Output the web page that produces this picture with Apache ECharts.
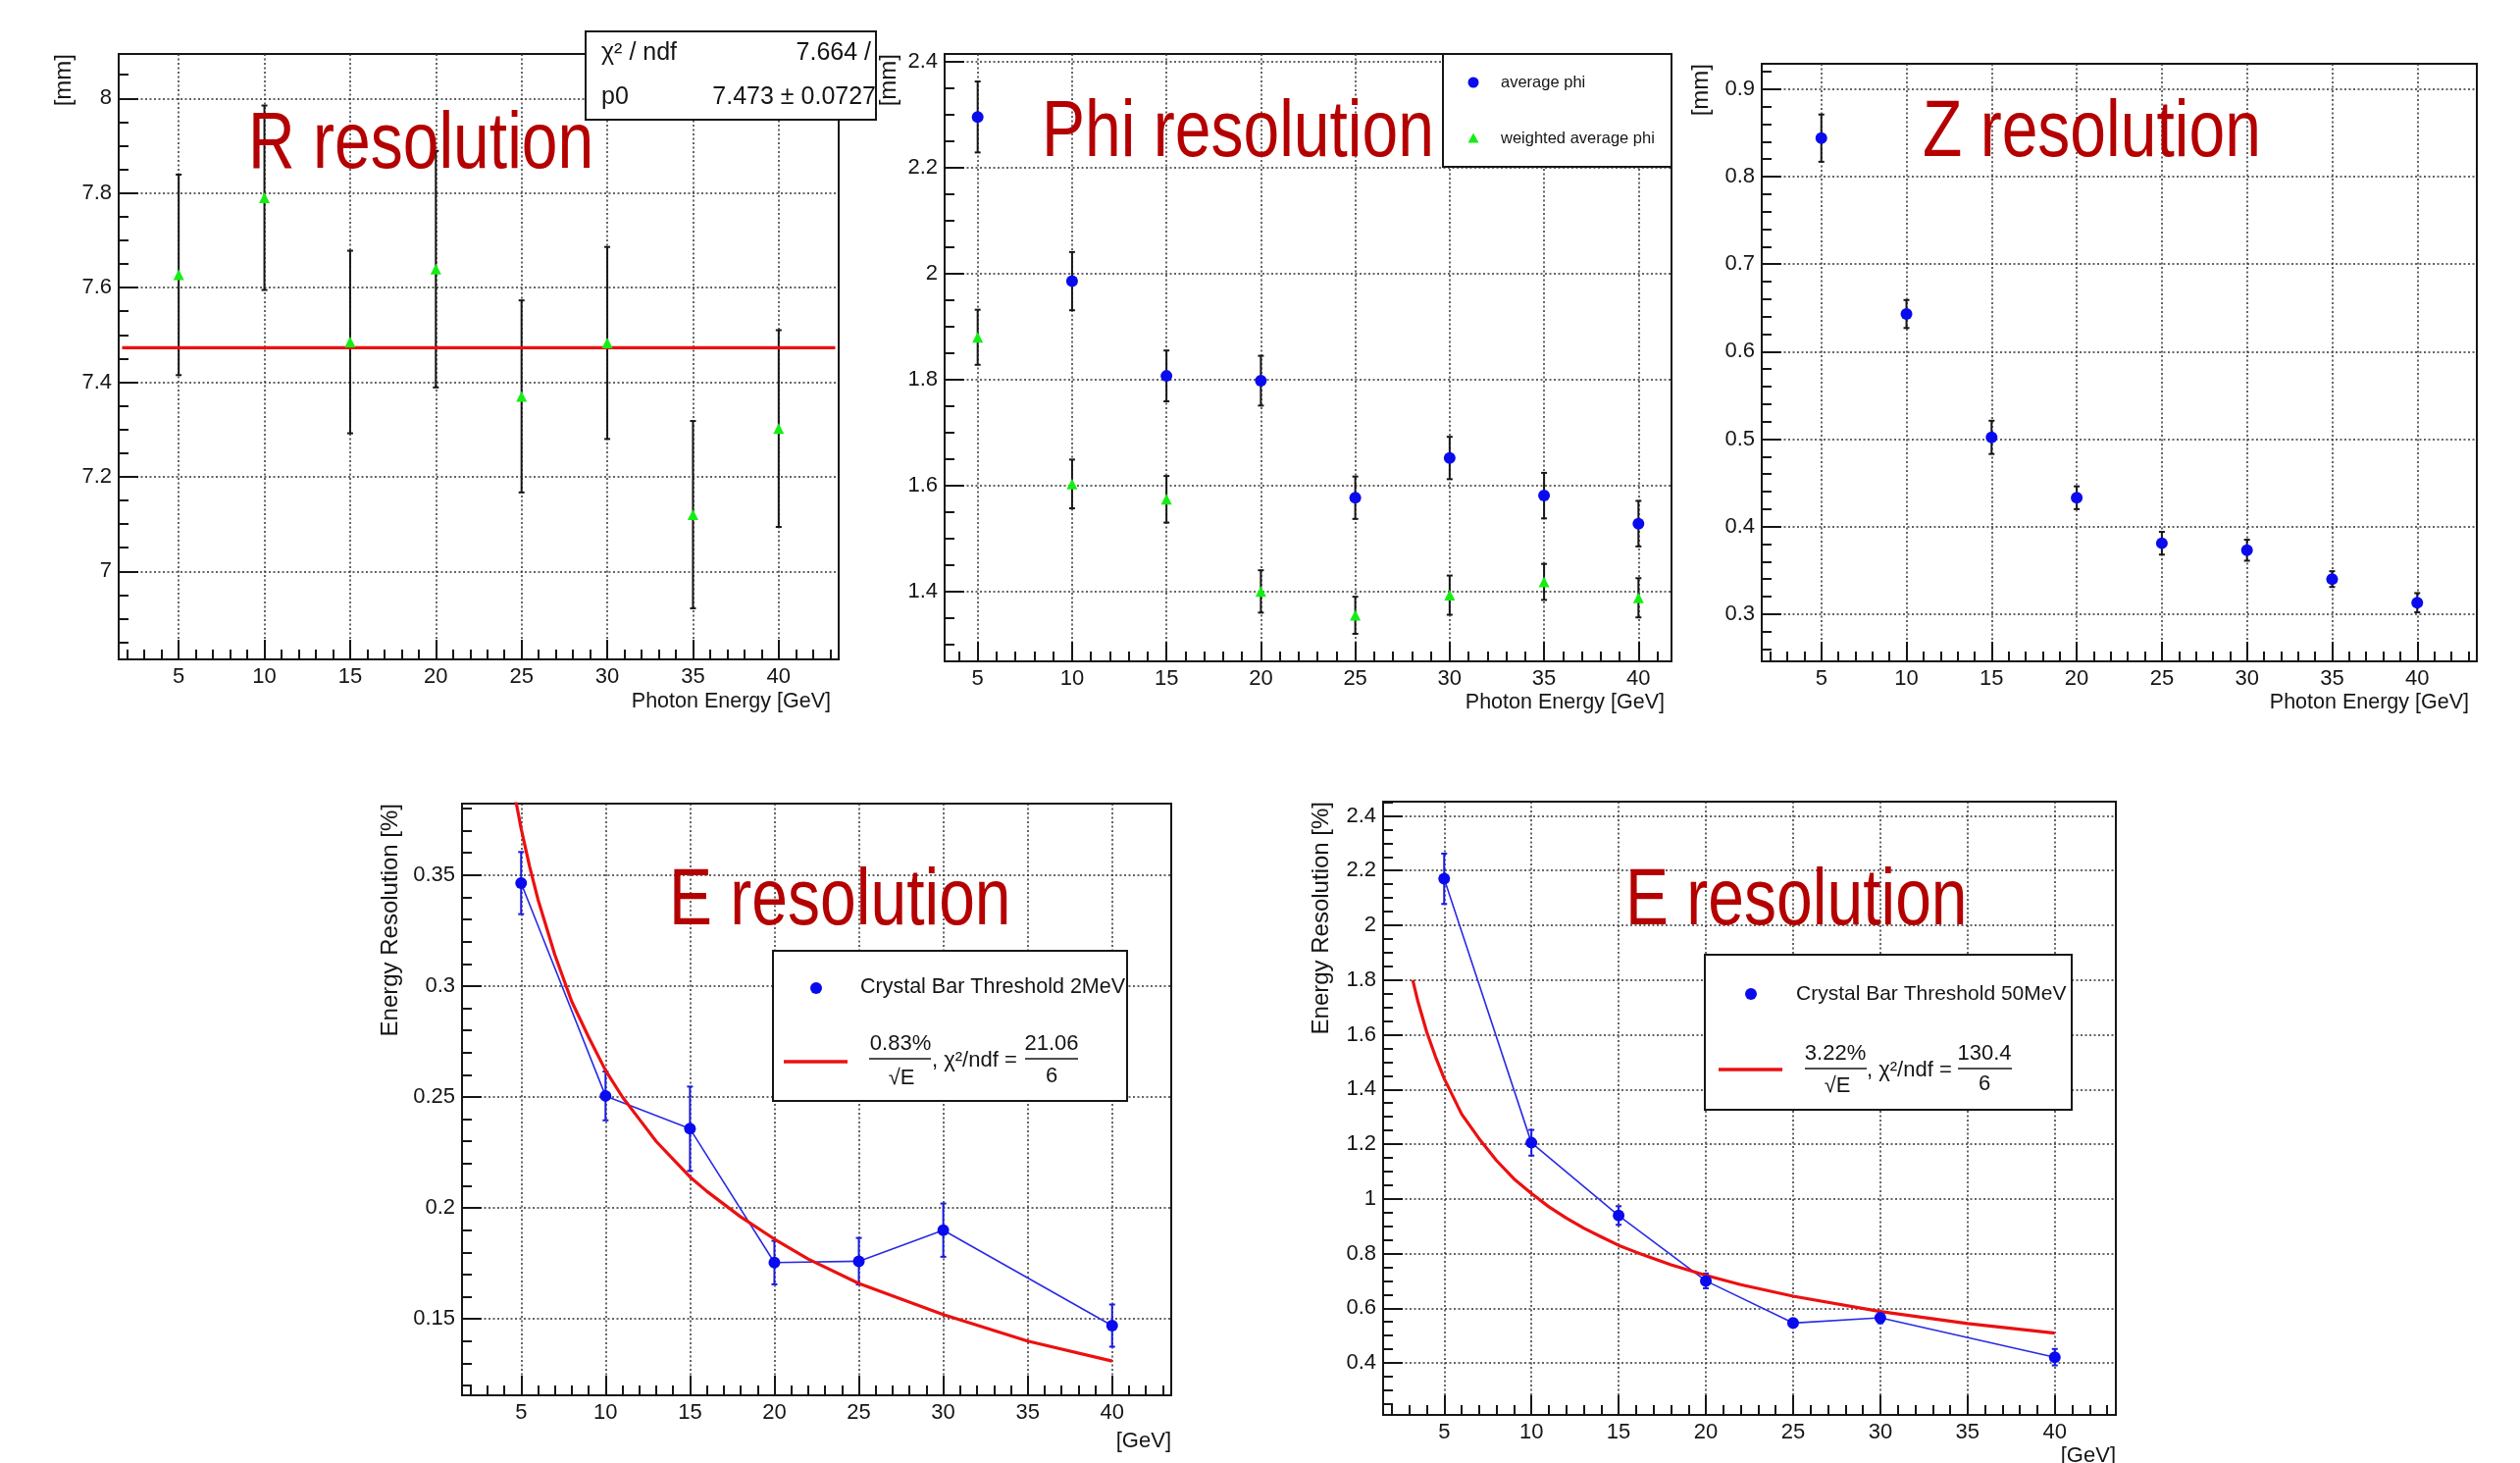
<!DOCTYPE html>
<html><head><meta charset="utf-8">
<script src="https://cdn.jsdelivr.net/npm/echarts@6/dist/echarts.min.js"></script>
<style>html,body{margin:0;padding:0;background:#fff;}#c{width:2569px;height:1491px;}</style>
</head><body><div id="c"></div>
<script>
// ---------------- data ----------------
const energies = [5, 10, 15, 20, 25, 30, 35, 40];
const eEnergies = [5, 10, 15, 20, 25, 30, 40];
const xTicks = [5, 10, 15, 20, 25, 30, 35, 40];

// R resolution
const rValues = [7.627, 7.790, 7.485, 7.639, 7.370, 7.483, 7.120, 7.302];
const rErrors = [0.212, 0.195, 0.193, 0.250, 0.203, 0.203, 0.198, 0.208];
const rFitP0 = 7.473;
const rFitRange = [1.7, 43.3];
const rTicks = [7, 7.2, 7.4, 7.6, 7.8, 8];
const rXRange = [1.5, 43.5], rYRange = [6.814, 8.094];

// Phi resolution
const phiAvg = [2.296, 1.986, 1.807, 1.798, 1.577, 1.652, 1.581, 1.528];
const phiAvgErr = [0.067, 0.055, 0.048, 0.047, 0.040, 0.040, 0.043, 0.043];
const phiWeighted = [1.880, 1.603, 1.574, 1.400, 1.355, 1.393, 1.418, 1.388];
const phiWeightedErr = [0.052, 0.046, 0.044, 0.040, 0.035, 0.037, 0.034, 0.037];
const phiTicks = [1.4, 1.6, 1.8, 2, 2.2, 2.4];
const phiXRange = [3.25, 41.75], phiYRange = [1.268, 2.415];

// Z resolution
const zValues = [0.844, 0.643, 0.502, 0.433, 0.381, 0.373, 0.340, 0.313];
const zErrors = [0.027, 0.016, 0.019, 0.013, 0.013, 0.012, 0.009, 0.011];
const zTicks = [0.3, 0.4, 0.5, 0.6, 0.7, 0.8, 0.9];
const zXRange = [1.5, 43.5], zYRange = [0.246, 0.929];

// E resolution, threshold 2 MeV
const e2Values = [0.3464, 0.2505, 0.2357, 0.1754, 0.1760, 0.1900, 0.1470];
const e2Errors = [0.0140, 0.0110, 0.0190, 0.0098, 0.0105, 0.0120, 0.0095];
const e2FitE = [4.5, 5, 5.5, 6, 7, 8, 9, 10, 11, 12, 13, 14, 15, 16, 18, 20, 22, 25, 30, 35, 40];
const e2FitValues = [0.391, 0.371, 0.354, 0.339, 0.314, 0.293, 0.277, 0.262, 0.250, 0.240, 0.230, 0.222, 0.214, 0.2075, 0.196, 0.186, 0.177, 0.166, 0.152, 0.140, 0.131];
const e2Ticks = [0.15, 0.2, 0.25, 0.3, 0.35];
const e2XRange = [1.5, 43.5], e2YRange = [0.1156, 0.3822];

// E resolution, threshold 50 MeV
const e50Values = [2.170, 1.205, 0.939, 0.700, 0.546, 0.565, 0.421];
const e50Errors = [0.092, 0.047, 0.034, 0.027, 0.015, 0.020, 0.030];
const e50FitE = [3.2, 3.5, 4, 4.5, 5, 6, 7, 8, 9, 10, 11, 12, 13, 14, 15, 16, 18, 20, 22, 25, 30, 35, 40];
const e50FitValues = [1.80, 1.72, 1.61, 1.52, 1.44, 1.31, 1.22, 1.14, 1.073, 1.02, 0.971, 0.93, 0.893, 0.861, 0.83, 0.805, 0.759, 0.72, 0.686, 0.644, 0.588, 0.544, 0.509];
const e50Ticks = [0.4, 0.6, 0.8, 1, 1.2, 1.4, 1.6, 1.8, 2, 2.2, 2.4];
const e50XRange = [1.5, 43.5], e50YRange = [0.21, 2.452];

// ---------------- helpers ----------------
const FONT = 'Liberation Sans, Arial, Helvetica, sans-serif';
const TXT = '#151515';
function steps(a, b, s) { const o = []; for (let v = a; v <= b + 1e-9; v += s) o.push(Math.round(v * 10000) / 10000); return o; }

const panels = [
  { grid: { left: 121, top: 55, width: 734, height: 617 }, x: rXRange, y: rYRange, yTicks: rTicks, yMinor: steps(6.85, 8.05, 0.05), xMinor: steps(2, 43, 1) },
  { grid: { left: 963, top: 55, width: 741, height: 619 }, x: phiXRange, y: phiYRange, yTicks: phiTicks, yMinor: steps(1.3, 2.4, 0.05), xMinor: steps(4, 41, 1) },
  { grid: { left: 1796, top: 65, width: 729, height: 609 }, x: zXRange, y: zYRange, yTicks: zTicks, yMinor: steps(0.26, 0.92, 0.02), xMinor: steps(2, 43, 1) },
  { grid: { left: 471, top: 819, width: 723, height: 603 }, x: e2XRange, y: e2YRange, yTicks: e2Ticks, yMinor: steps(0.12, 0.38, 0.01), xMinor: steps(2, 43, 1) },
  { grid: { left: 1410, top: 817, width: 747, height: 625 }, x: e50XRange, y: e50YRange, yTicks: e50Ticks, yMinor: steps(0.25, 2.45, 0.05), xMinor: steps(2, 43, 1) }
];

const grids = [], xAxes = [], yAxes = [];
const gridLine = { show: true, lineStyle: { color: '#333333', width: 1.5, type: [2, 2.5] } };
panels.forEach((p, i) => {
  grids.push(Object.assign({ show: true, borderColor: '#161616', borderWidth: 2, backgroundColor: 'transparent', containLabel: false, outerBoundsMode: 'none' }, p.grid));
  xAxes.push({
    type: 'value', gridIndex: i, min: p.x[0], max: p.x[1], position: 'bottom',
    axisLine: { show: false, onZero: false },
    axisTick: { show: true, inside: true, length: 20, customValues: xTicks, lineStyle: { color: '#161616', width: 2 } },
    axisLabel: { show: true, customValues: xTicks, margin: 7, fontSize: 22, fontFamily: FONT, color: TXT },
    splitLine: gridLine
  });
  xAxes.push({
    type: 'value', gridIndex: i, min: p.x[0], max: p.x[1], position: 'bottom',
    axisLine: { show: false, onZero: false },
    axisTick: { show: true, inside: true, length: 10, customValues: p.xMinor, lineStyle: { color: '#161616', width: 2 } },
    axisLabel: { show: false }, splitLine: { show: false }
  });
  yAxes.push({
    type: 'value', gridIndex: i, min: p.y[0], max: p.y[1], position: 'left',
    axisLine: { show: false, onZero: false },
    axisTick: { show: true, inside: true, length: 20, customValues: p.yTicks, lineStyle: { color: '#161616', width: 2 } },
    axisLabel: { show: true, customValues: p.yTicks, margin: 7, fontSize: 22, fontFamily: FONT, color: TXT },
    splitLine: gridLine
  });
  yAxes.push({
    type: 'value', gridIndex: i, min: p.y[0], max: p.y[1], position: 'left',
    axisLine: { show: false, onZero: false },
    axisTick: { show: true, inside: true, length: 10, customValues: p.yMinor, lineStyle: { color: '#161616', width: 2 } },
    axisLabel: { show: false }, splitLine: { show: false }
  });
});

function errorBarItem(color, cap) {
  return function (params, api) {
    const x = api.value(0), y = api.value(1), e = api.value(2);
    const t = api.coord([x, y + e]), b = api.coord([x, y - e]);
    const st = { stroke: color, lineWidth: 2 };
    return { type: 'group', children: [
      { type: 'line', shape: { x1: t[0], y1: t[1], x2: b[0], y2: b[1] }, style: st },
      { type: 'line', shape: { x1: t[0] - cap, y1: t[1], x2: t[0] + cap, y2: t[1] }, style: st },
      { type: 'line', shape: { x1: b[0] - cap, y1: b[1], x2: b[0] + cap, y2: b[1] }, style: st }
    ] };
  };
}
const series = [];
function errBars(i, xs, ys, es, color) {
  series.push({ type: 'custom', xAxisIndex: 2 * i, yAxisIndex: 2 * i, silent: true, z: 3,
    dimensions: ['x', 'y', 'err'], encode: { x: 0, y: 1 },
    data: xs.map((x, k) => [x, ys[k], es[k]]), renderItem: errorBarItem(color, 3) });
}
function points(i, xs, ys, symbol, size, color) {
  series.push({ type: 'scatter', xAxisIndex: 2 * i, yAxisIndex: 2 * i, silent: true, z: 5,
    data: xs.map((x, k) => [x, ys[k]]), symbol: symbol, symbolSize: size,
    itemStyle: { color: color, opacity: 1 } });
}
function curve(i, xs, ys, color, width, smooth, z) {
  series.push({ type: 'line', xAxisIndex: 2 * i, yAxisIndex: 2 * i, silent: true, z: z,
    data: xs.map((x, k) => [x, ys[k]]), showSymbol: false, symbol: 'none', smooth: smooth, clip: true,
    lineStyle: { color: color, width: width, join: 'round' } });
}
const BLUE = '#0a0aee', GREEN = '#14ee14', RED = '#ec1010';

// R
errBars(0, energies, rValues, rErrors, '#161616');
curve(0, rFitRange, rFitRange.map(() => rFitP0), RED, 3.2, false, 4);
points(0, energies, rValues, 'triangle', 11, GREEN);
// Phi
errBars(1, energies, phiAvg, phiAvgErr, '#161616');
errBars(1, energies, phiWeighted, phiWeightedErr, '#161616');
points(1, energies, phiAvg, 'circle', 12, BLUE);
points(1, energies, phiWeighted, 'triangle', 11, GREEN);
// Z
errBars(2, energies, zValues, zErrors, '#161616');
points(2, energies, zValues, 'circle', 12, BLUE);
// E 2MeV
curve(3, eEnergies, e2Values, '#2a2ae6', 1.6, false, 3);
errBars(3, eEnergies, e2Values, e2Errors, '#1a1ae0');
curve(3, e2FitE, e2FitValues, RED, 3.2, false, 4);
points(3, eEnergies, e2Values, 'circle', 12, BLUE);
// E 50MeV
curve(4, eEnergies, e50Values, '#2a2ae6', 1.6, false, 3);
errBars(4, eEnergies, e50Values, e50Errors, '#1a1ae0');
curve(4, e50FitE, e50FitValues, RED, 3.2, false, 4);
points(4, eEnergies, e50Values, 'circle', 12, BLUE);

// ---------------- annotations ----------------
const G = [];
function text(x, y, s, size, opt) {
  opt = opt || {};
  G.push({ type: 'text', x: x, y: y, z: 100, rotation: opt.rot || 0, scaleX: opt.sx || 1, scaleY: opt.sy || 1,
    style: { text: s, fontSize: size, fontFamily: FONT, fill: opt.color || TXT,
      align: opt.align || 'left', verticalAlign: opt.va || 'middle' } });
}
function box(x, y, w, h) {
  G.push({ type: 'rect', z: 90, shape: { x: x, y: y, width: w, height: h }, style: { fill: '#fff', stroke: '#161616', lineWidth: 2 } });
}
function seg(x1, y1, x2, y2, color, w) {
  G.push({ type: 'line', z: 100, shape: { x1: x1, y1: y1, x2: x2, y2: y2 }, style: { stroke: color, lineWidth: w } });
}
function dot(cx, cy, r, color) {
  G.push({ type: 'circle', z: 100, shape: { cx: cx, cy: cy, r: r }, style: { fill: color } });
}
function tri(cx, cy, s, color) {
  G.push({ type: 'polygon', z: 100, shape: { points: [[cx, cy - s], [cx - s, cy + s * 0.8], [cx + s, cy + s * 0.8]] }, style: { fill: color } });
}
const TITLE = { color: '#b40000', sx: 0.805 };
text(253, 148, 'R resolution', 82, TITLE);
text(1062, 136, 'Phi resolution', 82, TITLE);
text(1960, 136, 'Z resolution', 82, TITLE);
text(682, 919, 'E resolution', 82, TITLE);
text(1657, 919, 'E resolution', 82, TITLE);

// y titles
const ROT = Math.PI / 2;
text(65, 55, '[mm]', 24, { rot: ROT, align: 'right' });
text(906, 55, '[mm]', 24, { rot: ROT, align: 'right' });
text(1734, 65, '[mm]', 24, { rot: ROT, align: 'right' });
text(398, 819, 'Energy Resolution [%]', 24, { rot: ROT, align: 'right' });
text(1347, 817, 'Energy Resolution [%]', 24, { rot: ROT, align: 'right' });
// x titles
text(847, 715, 'Photon Energy [GeV]', 21.5, { align: 'right' });
text(1697, 716, 'Photon Energy [GeV]', 21.5, { align: 'right' });
text(2517, 716, 'Photon Energy [GeV]', 21.5, { align: 'right' });
text(1194, 1469, '[GeV]', 22, { align: 'right' });
text(2157, 1473, '[GeV]', 22, { align: 'right', va: 'top' });

// stats box (R)
box(597, 32, 296, 90);
text(613, 54, 'χ² / ndf', 25);
text(888, 54, '7.664 /', 25, { align: 'right' });
text(613, 99, 'p0', 25);
text(893, 99, '7.473 ± 0.0727', 25, { align: 'right' });

// Phi legend
box(1471, 55, 233, 115);
dot(1502, 84, 5.5, BLUE);
text(1530, 84, 'average phi', 16.5);
tri(1502, 141, 5.5, GREEN);
text(1530, 141, 'weighted average phi', 16.5);

// E 2MeV legend
box(788, 969, 361, 153);
dot(832, 1007, 6, BLUE);
text(877, 1006, 'Crystal Bar Threshold 2MeV', 21.5);
seg(799, 1082, 864, 1082, RED, 3.5);
text(918, 1064, '0.83%', 22, { align: 'center' });
seg(886, 1079, 949, 1079, TXT, 1.5);
text(919, 1099, '√E', 22, { align: 'center' });
text(950, 1081, ', χ²/ndf =', 22);
text(1072, 1064, '21.06', 22, { align: 'center' });
seg(1045, 1079, 1099, 1079, TXT, 1.5);
text(1072, 1097, '6', 22, { align: 'center' });

// E 50MeV legend
box(1738, 973, 374, 158);
dot(1785, 1013, 6, BLUE);
text(1831, 1013, 'Crystal Bar Threshold 50MeV', 21);
seg(1752, 1090, 1817, 1090, RED, 3.5);
text(1871, 1074, '3.22%', 22, { align: 'center' });
seg(1840, 1089, 1903, 1089, TXT, 1.5);
text(1873, 1107, '√E', 22, { align: 'center' });
text(1903, 1091, ', χ²/ndf =', 22);
text(2023, 1074, '130.4', 22, { align: 'center' });
seg(1996, 1089, 2051, 1089, TXT, 1.5);
text(2023, 1105, '6', 22, { align: 'center' });

const chart = echarts.init(document.getElementById('c'), null, { renderer: 'canvas' });
chart.setOption({
  animation: false,
  backgroundColor: '#ffffff',
  grid: grids, xAxis: xAxes, yAxis: yAxes,
  series: series,
  graphic: { elements: G }
});
</script>
</body></html>
